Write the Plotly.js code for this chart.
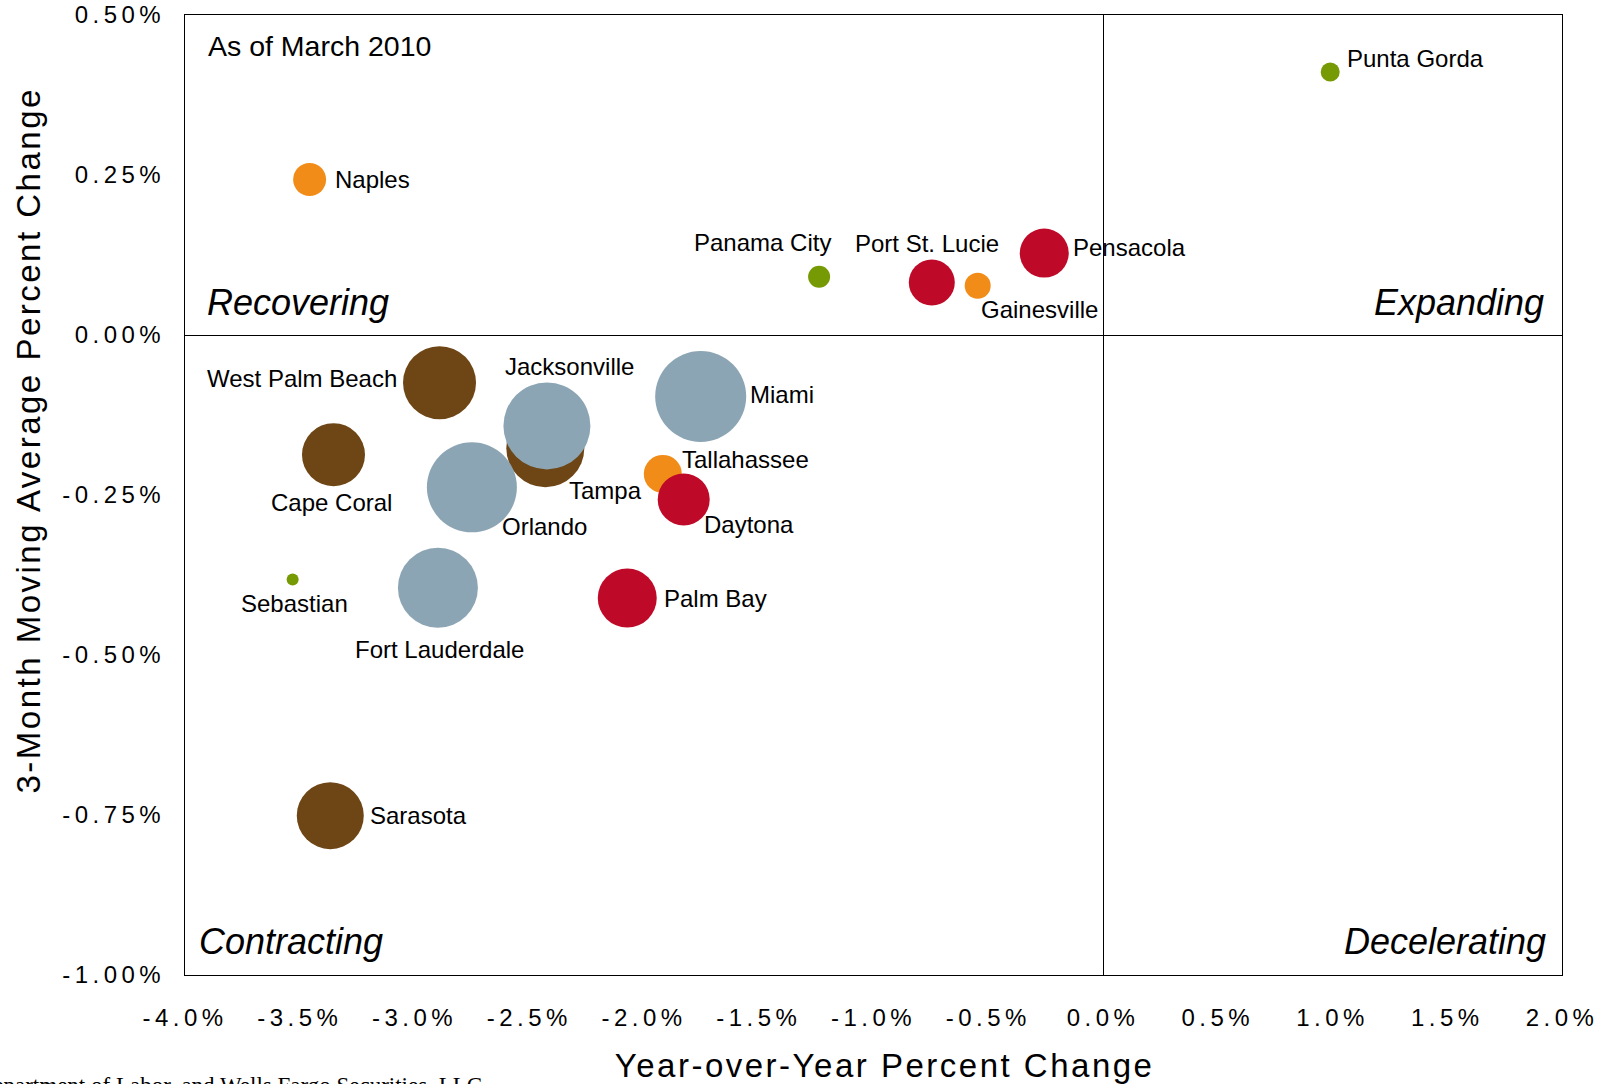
<!DOCTYPE html>
<html>
<head>
<meta charset="utf-8">
<script src="https://cdn.plot.ly/plotly-3.0.1.min.js"></script>
<style>
  html, body { margin: 0; padding: 0; background: #fff; }
  #chart { width: 1613px; height: 1084px; }
  .xtick text, .ytick text { letter-spacing: 4.5px; }
  .annotation[data-index="0"] text, .annotation[data-index="1"] text { letter-spacing: 2.5px; }
</style>
</head>
<body>
<div id="chart"></div>
<script>
// ---- data ----
const cities = ["Punta Gorda","Naples","Panama City","Port St. Lucie","Gainesville","Pensacola",
  "West Palm Beach","Cape Coral","Jacksonville","Tampa","Orlando","Miami",
  "Tallahassee","Daytona","Palm Bay","Sebastian","Fort Lauderdale","Sarasota"];
const yoyChange = [0.99,-3.457,-1.237,-0.746,-0.546,-0.256,
  -2.891,-3.353,-2.423,-2.430,-2.750,-1.753,
  -1.918,-1.827,-2.073,-3.531,-2.898,-3.367];
const movAvgChange = [0.411,0.243,0.091,0.082,0.077,0.128,
  -0.0745,-0.187,-0.142,-0.177,-0.238,-0.096,
  -0.217,-0.257,-0.411,-0.382,-0.395,-0.751];
const bubbleSize = [19,33,22,46,26,49,
  73,63,87,78,90,91,
  38,52,59,12,80,67];
const group = ["green","orange","green","red","orange","red",
  "brown","brown","blue","brown","blue","blue",
  "orange","red","red","green","blue","brown"];

const xTickVals = [-4,-3.5,-3,-2.5,-2,-1.5,-1,-0.5,0,0.5,1,1.5,2];
const xTickText = ["-4.0%","-3.5%","-3.0%","-2.5%","-2.0%","-1.5%","-1.0%","-0.5%","0.0%","0.5%","1.0%","1.5%","2.0%"];
const yTickVals = [0.5,0.25,0,-0.25,-0.5,-0.75,-1];
const yTickText = ["0.50%","0.25%","0.00%","-0.25%","-0.50%","-0.75%","-1.00%"];

const quadrantLabels = ["Recovering","Expanding","Contracting","Decelerating"];
const noteText = "As of March 2010";
const xTitle = "Year-over-Year Percent Change";
const yTitle = "3-Month Moving Average Percent Change";
const sourceText = "Source: U.S. Department of Labor, and Wells Fargo Securities, LLC";

// ---- styles ----
const groupColors = { orange:"#F28C19", brown:"#6E4514", blue:"#8CA5B4", red:"#BE0A28", green:"#769A04" };
const drawOrder = ["orange","brown","blue","red","green"];
// label placement: [xanchor, dx px, dy px (down positive)]
const labelPos = {
  "Punta Gorda":["left",16,-13], "Naples":["left",24,0], "Panama City":["center",-57,-34],
  "Port St. Lucie":["center",-5,-39], "Gainesville":["left",2,24], "Pensacola":["left",28,-6],
  "West Palm Beach":["right",-42,-4], "Cape Coral":["center",-2,48], "Jacksonville":["center",23,-59],
  "Tampa":["center",60,42], "Orlando":["left",29,39], "Miami":["left",48,-2],
  "Tallahassee":["left",18,-14], "Daytona":["left",19,25], "Palm Bay":["left",36,0],
  "Sebastian":["center",2,24], "Fort Lauderdale":["center",2,62], "Sarasota":["left",39,0]
};
const FONT = "Liberation Sans, Arial, sans-serif";

const traces = drawOrder.map(g => {
  const idx = cities.map((c,i)=>i).filter(i => group[i] === g);
  return {
    type: "scatter", mode: "markers", name: g,
    x: idx.map(i => yoyChange[i]), y: idx.map(i => movAvgChange[i]),
    text: idx.map(i => cities[i]), hoverinfo: "text",
    marker: { size: idx.map(i => bubbleSize[i]), sizemode: "diameter", sizeref: 1,
              color: groupColors[g], opacity: 1, line: { width: 0 } },
    cliponaxis: false
  };
});

const annotations = [
  { xref:"paper", yref:"paper", x:0.508, y:-0.094, text:xTitle, showarrow:false,
    xanchor:"center", yanchor:"middle", font:{family:FONT, size:33, color:"#000"} },
  { xref:"paper", yref:"paper", x:-0.114, y:0.557, text:yTitle, showarrow:false, textangle:-90,
    xanchor:"center", yanchor:"middle", font:{family:FONT, size:33, color:"#000"} },
  { xref:"paper", yref:"paper", x:0.0145, y:0.701, text:"<i>"+quadrantLabels[0]+"</i>", showarrow:false,
    xanchor:"left", yanchor:"middle", font:{family:FONT, size:36, color:"#000"} },
  { xref:"paper", yref:"paper", x:0.9884, y:0.701, text:"<i>"+quadrantLabels[1]+"</i>", showarrow:false,
    xanchor:"right", yanchor:"middle", font:{family:FONT, size:36, color:"#000"} },
  { xref:"paper", yref:"paper", x:0.0085, y:0.0354, text:"<i>"+quadrantLabels[2]+"</i>", showarrow:false,
    xanchor:"left", yanchor:"middle", font:{family:FONT, size:36, color:"#000"} },
  { xref:"paper", yref:"paper", x:0.9898, y:0.0354, text:"<i>"+quadrantLabels[3]+"</i>", showarrow:false,
    xanchor:"right", yanchor:"middle", font:{family:FONT, size:36, color:"#000"} },
  { xref:"paper", yref:"paper", x:0.0152, y:0.9677, text:noteText, showarrow:false,
    xanchor:"left", yanchor:"middle", font:{family:FONT, size:28.5, color:"#000"} },
  { xref:"paper", yref:"paper", x:0.2175, y:-0.1005, text:sourceText, showarrow:false,
    xanchor:"right", yanchor:"top", font:{family:"Liberation Serif, Times New Roman, serif", size:23, color:"#000"} }
];
cities.forEach((c,i) => {
  const p = labelPos[c];
  annotations.push({ xref:"x", yref:"y", x:yoyChange[i], y:movAvgChange[i], text:c, showarrow:false,
    xanchor:p[0], yanchor:"middle", xshift:p[1], yshift:-p[2], borderpad:0,
    font:{family:FONT, size:24, color:"#000"} });
});

const layout = {
  width: 1613, height: 1084,
  margin: { l:185, r:51, t:15, b:109, pad:0 },
  paper_bgcolor:"#fff", plot_bgcolor:"#fff",
  showlegend:false,
  xaxis: { range:[-4,2], tickmode:"array", tickvals:xTickVals, ticktext:xTickText,
    showgrid:false, zeroline:true, zerolinecolor:"#000", zerolinewidth:1,
    showline:true, mirror:true, linecolor:"#000", linewidth:1, ticks:"",
    ticklabelstandoff:21, tickfont:{family:FONT, size:24, color:"#000"} },
  yaxis: { range:[-1,0.5], tickmode:"array", tickvals:yTickVals, ticktext:yTickText,
    showgrid:false, zeroline:true, zerolinecolor:"#000", zerolinewidth:1,
    showline:true, mirror:true, linecolor:"#000", linewidth:1, ticks:"",
    ticklabelstandoff:14, tickfont:{family:FONT, size:24, color:"#000"} },
  annotations: annotations,
  font: { family: FONT }
};

Plotly.newPlot("chart", traces, layout, { displayModeBar:false, staticPlot:true });
</script>
</body>
</html>
